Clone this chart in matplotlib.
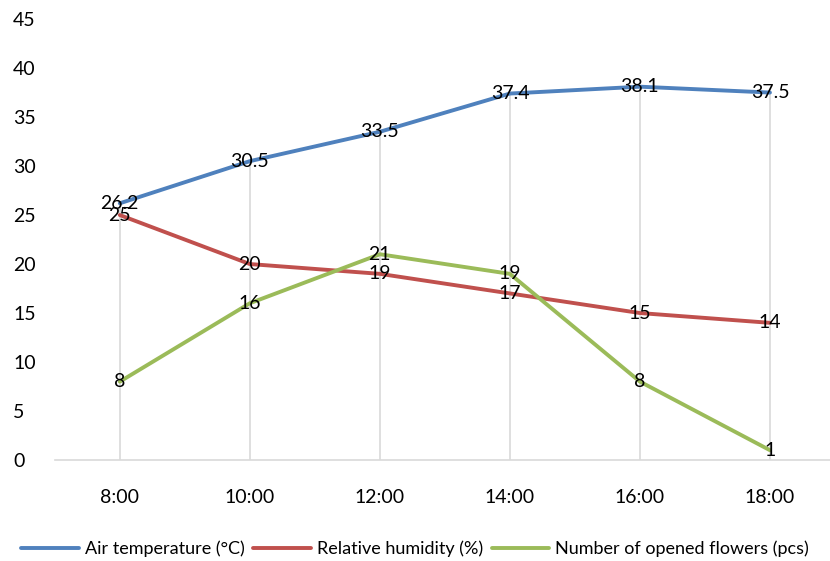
import numpy as np
import matplotlib.pyplot as plt

plt.rcParams['font.family'] = ['Lato', 'DejaVu Sans']

hours = ['8:00', '10:00', '12:00', '14:00', '16:00', '18:00']
air_temp = [26.2, 30.5, 33.5, 37.4, 38.1, 37.5]
humidity = [25, 20, 19, 17, 15, 14]
flowers = [8, 16, 21, 19, 8, 1]

series = [
    ('Air temperature (°C)', air_temp, '#4F81BD'),
    ('Relative humidity (%)', humidity, '#C0504D'),
    ('Number of opened flowers (pcs)', flowers, '#9BBB59'),
]

fig = plt.figure(figsize=(8.3, 5.61), dpi=100)
ax = fig.add_axes([0.066, 0.180, 0.94, 0.786])

x = np.arange(len(hours))
# drop lines from the highest point down to the axis
tops = np.max([air_temp, humidity, flowers], axis=0)
ax.vlines(x, 0, tops, color='#d9d9d9', lw=1.2, zorder=1)

for name, vals, col in series:
    ax.plot(x, vals, color=col, lw=2.8, label=name, solid_capstyle='round',
            solid_joinstyle='round', zorder=2)
    for xi, v in zip(x, vals):
        ax.text(xi, v, f'{v:g}', ha='center', va='center', fontsize=14, color='black', zorder=3)

ax.set_xlim(-0.5, 5.5)
ax.set_ylim(0, 45)
ax.set_yticks(range(0, 46, 5))
ax.set_xticks(x)
ax.set_xticklabels(hours)
ax.tick_params(axis='both', length=0, labelsize=14)
ax.tick_params(axis='x', pad=21)
ax.tick_params(axis='y', pad=30)
for ytl in ax.get_yticklabels():
    ytl.set_horizontalalignment('left')
for s in ['top', 'right', 'left']:
    ax.spines[s].set_visible(False)
ax.spines['bottom'].set_color('#d9d9d9')
ax.spines['bottom'].set_linewidth(1.2)

fig.legend(loc='lower center', bbox_to_anchor=(0.5, -0.022), ncol=3, frameon=False,
           fontsize=13, handlelength=3.2, handletextpad=0.3, columnspacing=0.5)

fig.savefig('out.png', dpi=100)
